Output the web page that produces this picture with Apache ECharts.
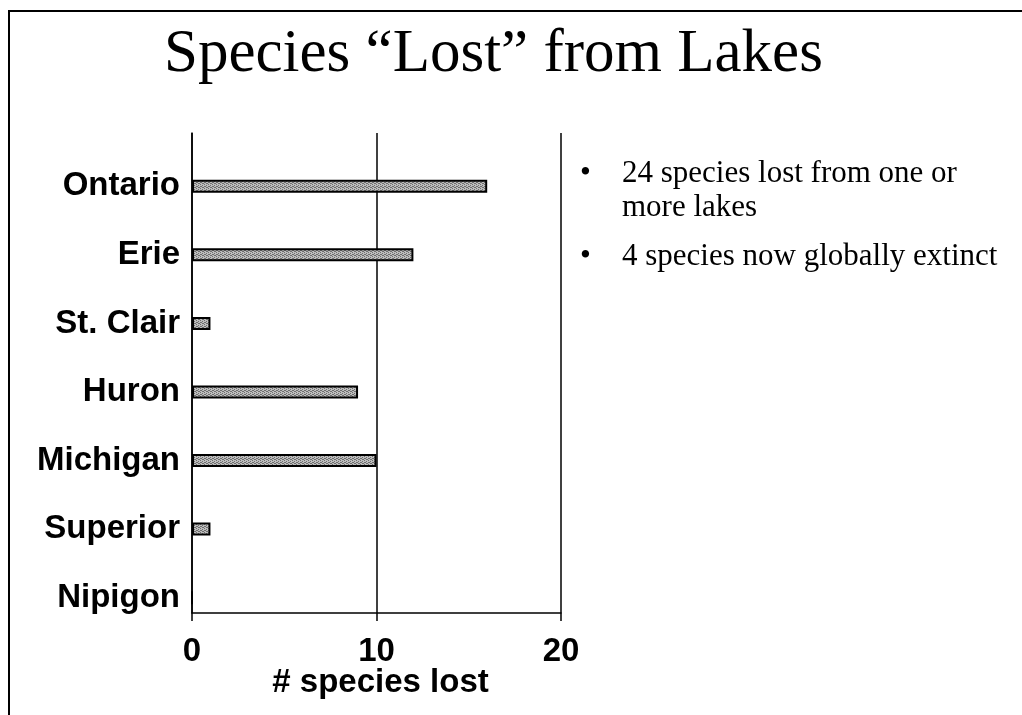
<!DOCTYPE html>
<html>
    <head>
        <meta charset="utf-8" />
        <title>Species Lost from Lakes</title>
        <script src="https://cdn.jsdelivr.net/npm/echarts@6.0.0/dist/echarts.min.js"></script>
        <style>
            body { margin: 0; background: #fff; }
        </style>
    </head>
    <body>
        <div id="main" style="width: 1022px;height: 715px;"></div>
        <script type="text/javascript">
            const lakes = ["Ontario", "Erie", "St. Clair", "Huron", "Michigan", "Superior", "Nipigon"];
            const speciesLost = [16, 12, 1, 9, 10, 1, 0];
            const xTicks = [0, 10, 20];
            const bullets = [
                ["24 species lost from one or", "more lakes"],
                ["4 species now globally extinct"]
            ];

            // stippled grey fill like the old slide
            const pat = document.createElement('canvas');
            pat.width = 4;
            pat.height = 4;
            const pctx = pat.getContext('2d');
            pctx.fillStyle = '#bdbdbd';
            pctx.fillRect(0, 0, 4, 4);
            pctx.fillStyle = '#6e6e6e';
            [[0, 0], [2, 1], [1, 2], [3, 3], [2, 3], [0, 2]].forEach(p => pctx.fillRect(p[0], p[1], 1, 1));

            const myChart = echarts.init(document.getElementById('main'));

            const bulletText = [];
            let y = 158;
            bullets.forEach(lines => {
                bulletText.push({
                    type: 'text', left: 580, top: y,
                    style: { text: '•', font: '31px "Liberation Serif"', fill: '#000' }
                });
                lines.forEach(line => {
                    bulletText.push({
                        type: 'text', left: 622, top: y,
                        style: { text: line, font: '31px "Liberation Serif"', fill: '#000' }
                    });
                    y += 34;
                });
                y += 15;
            });

            const option = {
                animation: false,
                title: {
                    text: 'Species “Lost” from Lakes',
                    left: 159,
                    top: 19,
                    textStyle: {
                        fontFamily: 'Liberation Serif',
                        fontWeight: 'normal',
                        fontSize: 61,
                        color: '#000'
                    }
                },
                grid: {
                    left: 192,
                    right: 461,
                    top: 133,
                    bottom: 102
                },
                xAxis: {
                    type: 'value',
                    min: xTicks[0],
                    max: xTicks[xTicks.length - 1],
                    interval: 10,
                    name: '# species lost',
                    nameLocation: 'middle',
                    nameGap: 53,
                    nameMoveOverlap: false,
                    nameTextStyle: {
                        fontFamily: 'Liberation Sans',
                        fontWeight: 'bold',
                        fontSize: 33,
                        color: '#000',
                        padding: [0, 0, 0, 8]
                    },
                    axisLine: { show: true, lineStyle: { color: '#000', width: 1.5 } },
                    axisTick: { show: true, length: 8, lineStyle: { color: '#000', width: 1.5 } },
                    axisLabel: {
                        margin: 22,
                        fontFamily: 'Liberation Sans',
                        fontWeight: 'bold',
                        fontSize: 33,
                        color: '#000'
                    },
                    splitLine: { show: true, lineStyle: { color: '#000', width: 1.5 } }
                },
                yAxis: {
                    type: 'category',
                    data: lakes,
                    inverse: true,
                    axisLine: { show: true, lineStyle: { color: '#000', width: 1.5 } },
                    axisTick: { show: false },
                    axisLabel: {
                        margin: 12,
                        verticalAlign: 'top',
                        lineHeight: 38,
                        fontFamily: 'Liberation Sans',
                        fontWeight: 'bold',
                        fontSize: 33,
                        color: '#000'
                    }
                },
                series: [
                    {
                        type: 'bar',
                        name: 'blank',
                        data: lakes.map(() => null),
                        barWidth: 13,
                        barGap: '192%'
                    },
                    {
                        type: 'bar',
                        name: 'lost',
                        data: speciesLost,
                        barWidth: 13,
                        barGap: '192%',
                        itemStyle: {
                            color: { image: pat, repeat: 'repeat' },
                            borderColor: '#000',
                            borderWidth: 2
                        }
                    }
                ],
                graphic: [
                    {
                        type: 'line',
                        shape: { x1: 8, y1: 11, x2: 1022, y2: 11 },
                        style: { stroke: '#000', lineWidth: 2 }
                    },
                    {
                        type: 'line',
                        shape: { x1: 9, y1: 11, x2: 9, y2: 715 },
                        style: { stroke: '#000', lineWidth: 2 }
                    }
                ].concat(bulletText)
            };
            myChart.setOption(option);
        </script>
    </body>
</html>
